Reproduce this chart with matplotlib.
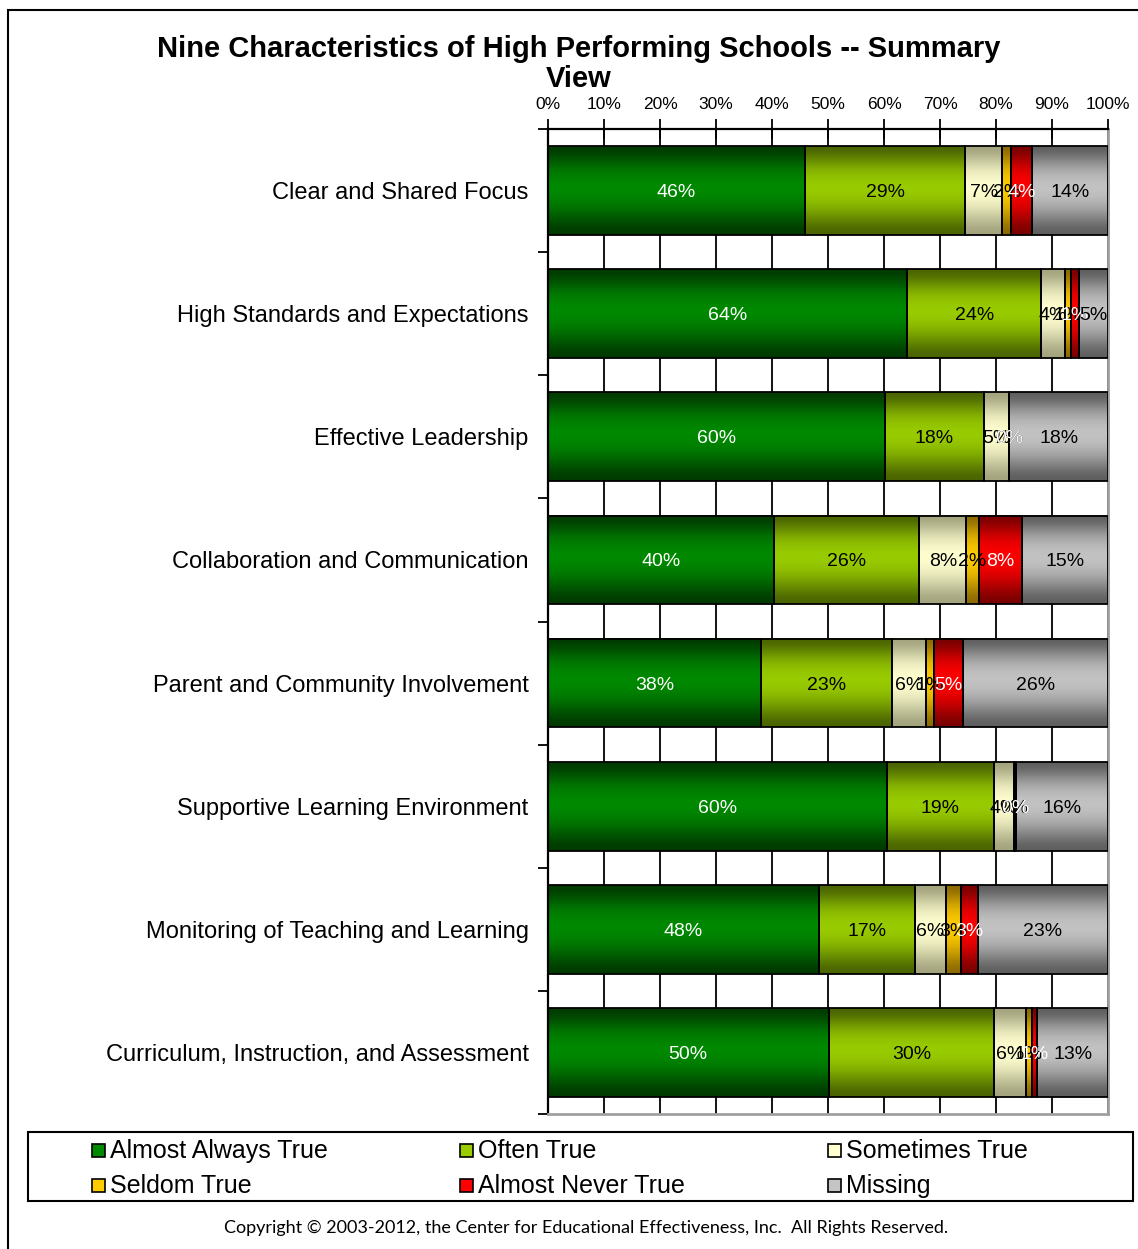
import numpy as np
from matplotlib import pyplot as plt
from matplotlib.patches import Rectangle
from matplotlib.colors import LinearSegmentedColormap

W, H = 1138, 1249

categories = ['Clear and Shared Focus', 'High Standards and Expectations',
              'Effective Leadership', 'Collaboration and Communication',
              'Parent and Community Involvement', 'Supportive Learning Environment',
              'Monitoring of Teaching and Learning', 'Curriculum, Instruction, and Assessment']
series_names = ['Almost Always True', 'Often True', 'Sometimes True',
                'Seldom True', 'Almost Never True', 'Missing']

# percent of responses, one list per response level
almost_always = [45.9, 64.1, 60.1, 40.4, 38.0, 60.5, 48.4, 50.1]
often = [28.6, 24.0, 17.7, 25.9, 23.4, 19.1, 17.1, 29.6]
sometimes = [6.6, 4.2, 4.6, 8.4, 6.1, 3.6, 5.6, 5.6]
seldom = [1.6, 1.1, 0.0, 2.2, 1.4, 0.0, 2.7, 1.2]
almost_never = [3.7, 1.4, 0.0, 7.8, 5.2, 0.4, 2.9, 0.9]
missing = [13.6, 5.2, 17.6, 15.3, 25.9, 16.4, 23.3, 12.6]

x_ticks = [0, 10, 20, 30, 40, 50, 60, 70, 80, 90, 100]

# (edge colour, middle colour, label colour) for each series
styles = [('#003a00', '#008a00', 'white'),
          ('#4a6400', '#9acd00', 'black'),
          ('#a3a37e', '#ffffd0', 'black'),
          ('#8c6a00', '#ffcc00', 'black'),
          ('#7a0000', '#ff0000', 'white'),
          ('#5e5e5e', '#c4c4c4', 'black')]

plt.rcParams['font.family'] = ['Liberation Sans', 'DejaVu Sans']


def fx(px):
    return px / W


def fy(py):
    return 1 - py / H


fig = plt.figure(figsize=(W / 100, H / 100), dpi=100)
ax = fig.add_axes([fx(548), fy(1114), fx(1108) - fx(548), fy(129) - fy(1114)])

data = np.array([almost_always, often, sometimes, seldom, almost_never, missing])
y = np.arange(len(categories))
bar_h = 0.72
left = np.zeros(len(categories))

grad = np.array([0.0, 0.35, 0.7, 0.9, 1.0, 0.95, 0.8, 0.55, 0.25, 0.0])[:, None]

for vals, (edge, mid, txt_col) in zip(data, styles):
    cmap = LinearSegmentedColormap.from_list('g', [edge, mid])
    for i, v in enumerate(vals):
        if v > 0:
            ax.imshow(grad, cmap=cmap, vmin=0, vmax=1, aspect='auto',
                      extent=[left[i], left[i] + v, y[i] + bar_h / 2, y[i] - bar_h / 2],
                      interpolation='bicubic', zorder=2)
        ax.text(left[i] + v / 2, y[i], '{:.0f}%'.format(v), ha='center',
                va='center_baseline', color=txt_col, fontsize=14, zorder=4)
    ax.barh(y, vals, left=left, height=bar_h, facecolor='none',
            edgecolor='black', linewidth=1.3, zorder=3)
    left += vals

ax.set_xlim(0, 100)
ax.set_ylim(len(categories) - 0.5, -0.5)
ax.set_aspect('auto')

ax.xaxis.tick_top()
ax.set_xticks(x_ticks)
ax.set_xticklabels(['{}%'.format(t) for t in x_ticks], fontsize=12.5)
ax.tick_params(axis='x', direction='inout', length=14, width=1.3, pad=5, colors='black')
ax.grid(axis='x', color='black', linewidth=1.3, zorder=1)

ax.set_yticks(y)
ax.set_yticklabels(categories, fontsize=17, va='center_baseline')
ax.set_yticks(np.arange(-0.5, len(categories)), minor=True)
ax.tick_params(axis='y', which='major', length=0, pad=14)
ax.tick_params(axis='y', which='minor', direction='out', length=7, width=1.3)

ax.spines['left'].set_linewidth(1.6)
ax.spines['top'].set_linewidth(1.6)
ax.spines['right'].set_color('#a0a0a0')
ax.spines['right'].set_linewidth(2)
ax.spines['bottom'].set_color('#a0a0a0')
ax.spines['bottom'].set_linewidth(2)

fig.text(fx(579), fy(64), 'Nine Characteristics of High Performing Schools -- Summary\nView',
         ha='center', va='center', fontsize=21, fontweight='bold', linespacing=1.1)

# outer chart frame
fig.patches.append(Rectangle((fx(8), fy(1260)), fx(1150), fy(10) - fy(1260),
                             transform=fig.transFigure, fill=False,
                             edgecolor='black', linewidth=1.5))

# legend box with entries laid out row by row
fig.patches.append(Rectangle((fx(28), fy(1201)), fx(1133) - fx(28), fy(1132) - fy(1201),
                             transform=fig.transFigure, fill=False,
                             edgecolor='black', linewidth=1.5))
col_x = [92, 460, 828]
row_y = [1151, 1186]
for k, (name, (edge, mid, _)) in enumerate(zip(series_names, styles)):
    cx, cy = col_x[k % 3], row_y[k // 3]
    fig.patches.append(Rectangle((fx(cx), fy(cy + 6)), fx(13), fy(cy - 7) - fy(cy + 6),
                                 transform=fig.transFigure, facecolor=mid,
                                 edgecolor='black', linewidth=1.2))
    fig.text(fx(cx + 18), fy(cy), name, ha='left', va='center', fontsize=18)

fig.text(fx(586), fy(1228),
         'Copyright \u00a9 2003-2012, the Center for Educational Effectiveness, Inc.  All Rights Reserved.',
         ha='center', va='center', fontsize=13, family=['Lato', 'DejaVu Sans'])

fig.savefig('out.png', dpi=100)
